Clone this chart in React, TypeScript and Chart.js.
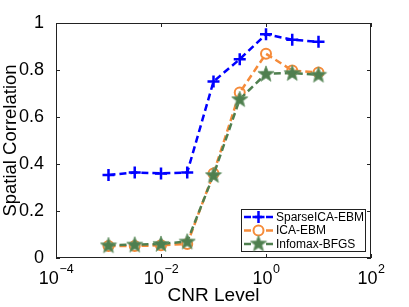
import React, { useEffect, useRef } from "react";
import { Chart, registerables } from "chart.js";

Chart.register(...registerables);

// ---- data ----
const cnrLevels = [0.001, 0.00316, 0.01, 0.0316, 0.1, 0.316, 1, 3.16, 10];
const sparseIcaEbm = [0.353, 0.364, 0.36, 0.364, 0.751, 0.846, 0.952, 0.929, 0.92];
const icaEbm = [0.051, 0.051, 0.054, 0.06, 0.36, 0.704, 0.869, 0.798, 0.789];
const infomaxBfgs = [0.054, 0.057, 0.06, 0.07, 0.353, 0.676, 0.784, 0.787, 0.78];
const seriesNames = ["SparseICA-EBM", "ICA-EBM", "Infomax-BFGS"];
const xTickValues = [1e-4, 1e-2, 1, 100];
const xTickBases = ["10", "10", "10", "10"];
const xTickExponents = ["−4", "−2", "0", "2"];
const yTickValues = [0, 0.2, 0.4, 0.6, 0.8, 1];
const yTickLabels = ["0", "0.2", "0.4", "0.6", "0.8", "1"];

const BLUE = "#0000ff";
const ORANGE = "#f58b3a";
const GREEN = "#4f7f4f";
const FONT = "'Liberation Sans', Arial, Helvetica, sans-serif";
const DASH = [7, 4];

function starPath(ctx: CanvasRenderingContext2D, cx: number, cy: number, ro: number, ri: number) {
  ctx.beginPath();
  for (let i = 0; i < 10; i++) {
    const r = i % 2 === 0 ? ro : ri;
    const a = -Math.PI / 2 + (i * Math.PI) / 5;
    const px = cx + r * Math.cos(a);
    const py = cy + r * Math.sin(a);
    if (i === 0) ctx.moveTo(px, py);
    else ctx.lineTo(px, py);
  }
  ctx.closePath();
}

function makeStar(): HTMLCanvasElement {
  const c = document.createElement("canvas");
  c.width = 18;
  c.height = 18;
  const g = c.getContext("2d")!;
  starPath(g, 9, 9.5, 8.5, 3.6);
  g.fillStyle = GREEN;
  g.fill();
  g.strokeStyle = "#6a956a";
  g.lineWidth = 0.8;
  g.stroke();
  return c;
}

const framePlugin = {
  id: "frame",
  afterDatasetsDraw(chart: any) {
    const { ctx, chartArea: a, scales } = chart;
    const x = scales.x;
    const y = scales.y;
    ctx.save();
    ctx.strokeStyle = "#222";
    ctx.lineWidth = 1;
    ctx.strokeRect(a.left + 0.5, a.top + 0.5, a.right - a.left - 1, a.bottom - a.top - 1);
    const tl = 4;
    ctx.beginPath();
    for (const v of yTickValues) {
      const py = Math.round(y.getPixelForValue(v)) + 0.5;
      ctx.moveTo(a.left, py);
      ctx.lineTo(a.left + tl, py);
      ctx.moveTo(a.right, py);
      ctx.lineTo(a.right - tl, py);
    }
    for (const v of xTickValues) {
      const px = Math.round(x.getPixelForValue(v)) + 0.5;
      ctx.moveTo(px, a.bottom);
      ctx.lineTo(px, a.bottom - tl);
      ctx.moveTo(px, a.top);
      ctx.lineTo(px, a.top + tl);
    }
    ctx.stroke();
    // x tick labels with superscript exponents
    ctx.fillStyle = "#000";
    ctx.textBaseline = "alphabetic";
    ctx.textAlign = "left";
    xTickValues.forEach((v, i) => {
      const px = x.getPixelForValue(v);
      ctx.font = `18px ${FONT}`;
      const wb = ctx.measureText(xTickBases[i]).width;
      ctx.font = `12.5px ${FONT}`;
      const we = ctx.measureText(xTickExponents[i]).width;
      const start = px - (wb + we) / 2;
      ctx.font = `18px ${FONT}`;
      ctx.fillText(xTickBases[i], start, 283.5);
      ctx.font = `12.5px ${FONT}`;
      ctx.fillText(xTickExponents[i], start + wb + 0.5, 272.5);
    });
    ctx.restore();
  },
};

function makeLegendPlugin(star: HTMLCanvasElement) {
  return {
    id: "boxLegend",
    afterDraw(chart: any) {
      const { ctx } = chart;
      const bx = 241.5, by = 209.5, bw = 124, bh = 42;
      ctx.save();
      ctx.fillStyle = "#fff";
      ctx.fillRect(bx, by, bw, bh);
      ctx.strokeStyle = "#222";
      ctx.lineWidth = 1;
      ctx.strokeRect(bx, by, bw, bh);
      const rows = [217, 230.5, 244];
      const colors = [BLUE, ORANGE, GREEN];
      for (let i = 0; i < 3; i++) {
        const cy = rows[i];
        ctx.strokeStyle = colors[i];
        ctx.lineWidth = 2.5;
        ctx.setLineDash(DASH);
        ctx.beginPath();
        ctx.moveTo(244, cy);
        ctx.lineTo(273, cy);
        ctx.stroke();
        ctx.setLineDash([]);
        const mx = 258.5;
        if (i === 0) {
          ctx.lineWidth = 2.5;
          ctx.beginPath();
          ctx.moveTo(mx - 6, cy);
          ctx.lineTo(mx + 6, cy);
          ctx.moveTo(mx, cy - 6);
          ctx.lineTo(mx, cy + 6);
          ctx.stroke();
        } else if (i === 1) {
          ctx.fillStyle = "#fff";
          ctx.beginPath();
          ctx.arc(mx, cy, 5, 0, Math.PI * 2);
          ctx.fill();
          ctx.lineWidth = 2;
          ctx.stroke();
        } else {
          ctx.drawImage(star, mx - 9, cy - 9.5);
        }
        ctx.fillStyle = "#000";
        ctx.font = `12px ${FONT}`;
        ctx.textBaseline = "middle";
        ctx.textAlign = "left";
        ctx.fillText(seriesNames[i], 276, cy + 0.5);
      }
      ctx.restore();
    },
  };
}

export default function App() {
  const ref = useRef<HTMLCanvasElement | null>(null);
  useEffect(() => {
    if (!ref.current) return;
    const star = makeStar();
    const mk = (vals: number[]) => cnrLevels.map((c, i) => ({ x: c, y: vals[i] }));
    const chart = new Chart(ref.current, {
      type: "line",
      data: {
        datasets: [
          {
            label: seriesNames[0],
            data: mk(sparseIcaEbm),
            borderColor: BLUE,
            backgroundColor: BLUE,
            borderWidth: 2.5,
            borderDash: DASH,
            pointStyle: "cross",
            pointRadius: 6,
            pointBorderWidth: 2.5,
            order: 2,
          },
          {
            label: seriesNames[1],
            data: mk(icaEbm),
            borderColor: ORANGE,
            backgroundColor: "rgba(0,0,0,0)",
            borderWidth: 2.5,
            borderDash: DASH,
            pointStyle: "circle",
            pointRadius: 5,
            pointBorderWidth: 2,
            order: 1,
          },
          {
            label: seriesNames[2],
            data: mk(infomaxBfgs),
            borderColor: GREEN,
            backgroundColor: GREEN,
            borderWidth: 2.5,
            borderDash: DASH,
            pointStyle: star as any,
            pointRadius: 9,
            order: 0,
          },
        ],
      },
      options: {
        responsive: false,
        animation: false,
        devicePixelRatio: 1,
        layout: { padding: { top: 23, right: 38, left: 0, bottom: 0 } },
        plugins: { legend: { display: false }, tooltip: { enabled: false } },
        scales: {
          x: {
            type: "logarithmic",
            min: 1e-4,
            max: 100,
            grid: { display: false },
            border: { display: false },
            afterBuildTicks: (s: any) => {
              s.ticks = xTickValues.map((v) => ({ value: v }));
            },
            afterFit: (s: any) => {
              s.height = 49;
            },
            ticks: { display: false },
            title: {
              display: true,
              text: "CNR Level",
              color: "#000",
              font: { family: FONT, size: 19 },
              padding: 0,
            },
          },
          y: {
            type: "linear",
            min: 0,
            max: 1,
            grid: { display: false },
            border: { display: false },
            afterBuildTicks: (s: any) => {
              s.ticks = yTickValues.map((v) => ({ value: v }));
            },
            afterFit: (s: any) => {
              s.width = 56;
            },
            ticks: {
              padding: 4,
              color: "#000",
              font: { family: FONT, size: 18 },
              callback: (_v: any, i: number) => yTickLabels[i],
            },
            title: {
              display: true,
              text: "Spatial Correlation",
              color: "#000",
              font: { family: FONT, size: 18.5 },
              padding: 0,
            },
          },
        },
      },
      plugins: [framePlugin, makeLegendPlugin(star)],
    });
    return () => chart.destroy();
  }, []);
  return (
    <div style={{ position: "absolute", left: 0, top: 0, width: 409, height: 307, background: "#fff" }}>
      <canvas ref={ref} width={409} height={307} />
    </div>
  );
}
